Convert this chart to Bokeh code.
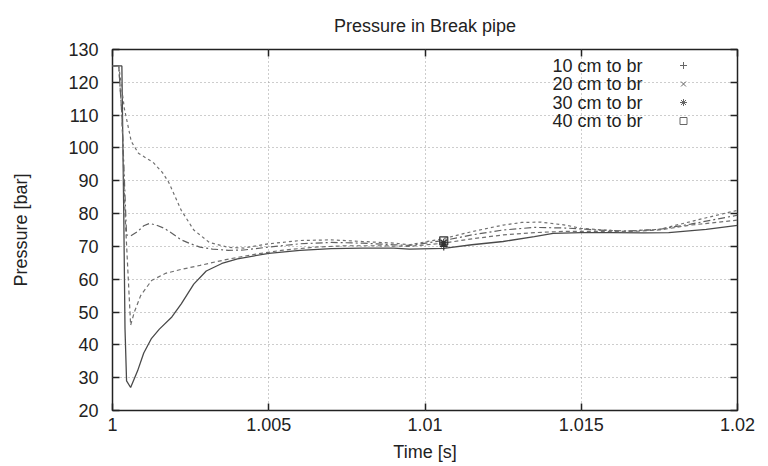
from bokeh.plotting import figure
from bokeh.models import Range1d, FixedTicker, LinearAxis, Title
from bokeh.core.properties import value
from bokeh.embed import file_html
from bokeh.resources import INLINE

# ---------------- data ----------------
t_10 = [1.0, 1.00030, 1.00036, 1.00040, 1.00045, 1.00058, 1.0008, 1.00100, 1.00125, 1.0015,
        1.0019, 1.0022, 1.0026, 1.0030, 1.0035, 1.0040, 1.0050, 1.0060, 1.0070, 1.0080,
        1.0090, 1.0095, 1.0106, 1.0115, 1.0125, 1.0135, 1.0141, 1.0150, 1.0160, 1.0170,
        1.0178, 1.0190, 1.0200]
p_10 = [125, 125, 80, 45, 29, 27, 32, 37.5, 42, 44.8,
        48.5, 52.5, 58.5, 62.5, 64.8, 66.2, 67.9, 68.8, 69.3, 69.5,
        69.5, 69.2, 69.4, 70.5, 71.5, 73, 74, 74.2, 74.2, 74.1,
        74.2, 75.2, 76.4]

t_20 = [1.0, 1.0002, 1.0003, 1.0004, 1.00058, 1.0007, 1.0009, 1.00125, 1.0017, 1.0022,
        1.0028, 1.0033, 1.0038, 1.0045, 1.0054, 1.0065, 1.0075, 1.0085, 1.0095, 1.0106,
        1.0115, 1.0125, 1.0135, 1.0145, 1.0155, 1.0165, 1.0175, 1.0185, 1.0200]
p_20 = [125, 125, 110, 80, 46, 50, 55, 59.6, 61.8, 63,
        64.2, 65.3, 66.3, 67.5, 68.8, 69.8, 70.2, 70.2, 70.0, 71.0,
        72.3, 73.5, 74.2, 74.6, 74.6, 74.5, 75.0, 76.5, 78.0]

t_30 = [1.0, 1.0002, 1.0003, 1.00045, 1.00058, 1.0008, 1.0010, 1.00118, 1.0014, 1.00166,
        1.0019, 1.0022, 1.0025, 1.0028, 1.0032, 1.0037, 1.0042, 1.0050, 1.0060, 1.0070,
        1.0080, 1.0090, 1.0095, 1.0106, 1.0115, 1.0125, 1.0135, 1.0145, 1.0155, 1.0165,
        1.0175, 1.0185, 1.0200]
p_30 = [125, 125, 110, 73.5, 73.2, 74.5, 76.3, 77, 76.5, 75.5,
        74, 72, 70.8, 69.8, 69.2, 68.8, 68.9, 69.8, 70.8, 71.2,
        71.0, 70.5, 70.3, 71.8, 73.5, 75.0, 75.8, 75.6, 75.0, 74.7,
        75.2, 76.8, 79.5]

t_40 = [1.0, 1.0002, 1.00038, 1.0006, 1.00083, 1.0013, 1.0016, 1.0018, 1.0022, 1.0026,
        1.0031, 1.0037, 1.0042, 1.0050, 1.0060, 1.0070, 1.0080, 1.0090, 1.0095, 1.0106,
        1.0115, 1.0125, 1.0131, 1.0137, 1.0145, 1.0150, 1.0163, 1.0175, 1.0189, 1.0200]
p_40 = [125, 125, 112, 102, 98.4, 95.6, 92.5, 89.5, 81, 75,
        71.2, 69.7, 69.5, 70.8, 71.8, 72.0, 71.5, 71.0, 70.5, 72.4,
        74.5, 76.5, 77.3, 77.4, 76.5, 75.5, 74.6, 75.2, 78.5, 81.0]

# point series shown in the key
point_labels = ["10 cm to br", "20 cm to br", "30 cm to br", "40 cm to br"]
point_markers = ["cross", "x", "asterisk", "square"]
point_t = [1.0106, 1.0106, 1.0106, 1.0106]
point_p = [70.0, 70.6, 71.1, 71.7]

x_ticks = [1.0, 1.005, 1.01, 1.015, 1.02]
x_tick_labels = ["1", "1.005", "1.01", "1.015", "1.02"]
y_ticks = [20, 30, 40, 50, 60, 70, 80, 90, 100, 110, 120, 130]

# ---------------- figure ----------------
FONT = "Liberation Sans"
W, H = 768, 466
L, R, T, B = 112, 31, 49, 56
x0, x1 = 1.0, 1.02
y0, y1 = 20, 130

p = figure(width=W, height=H, output_backend="svg", toolbar_location=None,
           x_range=Range1d(x0, x1), y_range=Range1d(y0, y1),
           min_border_left=L, min_border_right=R, min_border_top=T, min_border_bottom=B,
           background_fill_color="white", border_fill_color="white")
p.outline_line_color = "#222222"
p.outline_line_width = 1.5

p.title = Title(text="Pressure in Break pipe", align="center",
                text_font=FONT, text_font_size="18px", text_font_style="normal",
                text_color="#222222", standoff=27, offset=8)

for ax in (p.xaxis[0], p.yaxis[0]):
    ax.major_label_text_font = FONT
    ax.major_label_text_font_size = "18px"
    ax.major_label_text_color = "#222222"
    ax.axis_label_text_font = FONT
    ax.axis_label_text_font_size = "18px"
    ax.axis_label_text_font_style = "normal"
    ax.axis_label_text_color = "#222222"
    ax.major_tick_in = 7
    ax.major_tick_out = 0
    ax.minor_tick_line_color = None
    ax.axis_line_color = None
    ax.major_tick_line_color = "#222222"
    ax.major_tick_line_width = 1.5

p.xaxis[0].ticker = FixedTicker(ticks=x_ticks)
p.xaxis[0].major_label_overrides = {t: s for t, s in zip(x_ticks, x_tick_labels)}
p.xaxis[0].axis_label = "Time [s]"
p.xaxis[0].major_label_standoff = 7
p.xaxis[0].axis_label_standoff = 8

p.yaxis[0].ticker = FixedTicker(ticks=y_ticks)
p.yaxis[0].axis_label = "Pressure [bar]"
p.yaxis[0].major_label_standoff = 14
p.yaxis[0].axis_label_standoff = 34

# mirrored ticks on top and right (no labels)
for side in ("above", "right"):
    ticks = x_ticks if side == "above" else y_ticks
    ax = LinearAxis(ticker=FixedTicker(ticks=ticks),
                    major_label_overrides={t: "" for t in ticks},
                    major_label_text_color=None, major_label_standoff=0,
                    major_tick_in=7, major_tick_out=0, minor_tick_line_color=None,
                    axis_line_color=None, major_tick_line_color="#222222",
                    major_tick_line_width=1.5)
    p.add_layout(ax, side)

p.grid.grid_line_color = "#9a9a9a"
p.grid.grid_line_dash = "1 3"
p.grid.grid_line_width = 1
p.xgrid.ticker = FixedTicker(ticks=x_ticks)
p.ygrid.ticker = FixedTicker(ticks=y_ticks)

# lines
p.line(t_10, p_10, line_color="#4a4a4a", line_width=1.3)
p.line(t_20, p_20, line_color="#707070", line_width=1.2, line_dash="4 3")
p.line(t_30, p_30, line_color="#606060", line_width=1.2, line_dash="7 3 2 3")
p.line(t_40, p_40, line_color="#707070", line_width=1.2, line_dash="3 3")

# points
for t, v, m in zip(point_t, point_p, point_markers):
    p.scatter([t], [v], marker=m, size=8, line_color="#333333", fill_color=None, line_width=1.2)

# key (gnuplot style: text right-aligned, symbol to its right)
fw, fh = W - L - R, H - T - B
key_text_px = 642
key_sym_px = 683
key_rows_px = [65, 83.5, 102, 120.5]
kx_text = x0 + (key_text_px - L) / fw * (x1 - x0)
kx_sym = x0 + (key_sym_px - L) / fw * (x1 - x0)
ky = [y1 - (r - T) / fh * (y1 - y0) for r in key_rows_px]
p.text(x=[kx_text] * 4, y=ky, text=point_labels, text_align="right", text_baseline="middle",
       text_font=value(FONT), text_font_size="18px", text_color="#222222")
for yy, m in zip(ky, point_markers):
    p.scatter([kx_sym], [yy], marker=m, size=7, line_color="#666666", fill_color=None, line_width=1)

open("out.html", "w").write(file_html(p, INLINE))
